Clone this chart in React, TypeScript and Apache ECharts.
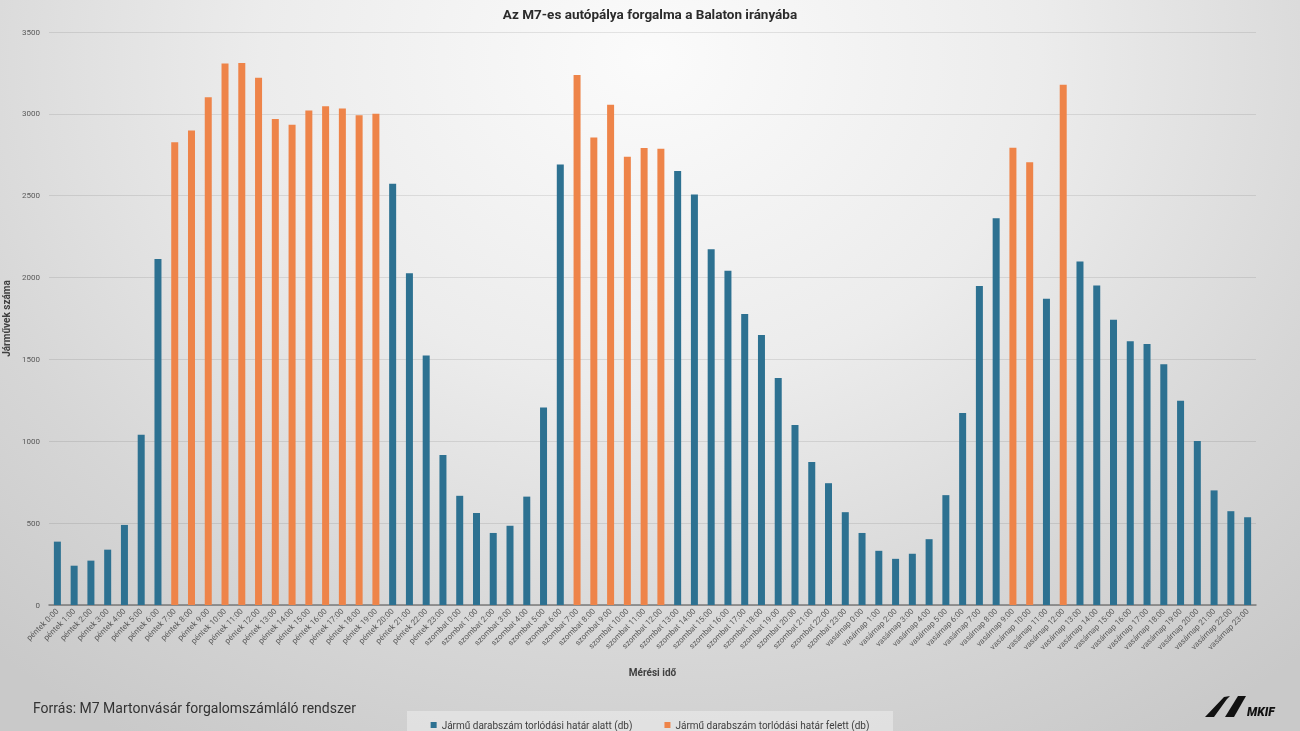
import React, { useEffect, useRef } from "react";
import * as echarts from "echarts";

// Hourly slots, Friday 0:00 to Sunday 23:00
const days = ["péntek", "szombat", "vasárnap"];
const hours = Array.from({ length: 24 }, (_, h) => `${h}:00`);
const categories = days.flatMap((d) => hours.map((h) => `${d} ${h}`));

// Vehicle counts per hour
const fridayCounts = [
  387, 240, 271, 338, 489, 1040, 2113, 2827, 2898, 3102, 3307, 3311,
  3220, 2969, 2933, 3020, 3047, 3033, 2991, 3000, 2573, 2027, 1524, 916,
];
const saturdayCounts = [
  667, 562, 440, 484, 662, 1207, 2691, 3238, 2855, 3055, 2738, 2791,
  2787, 2651, 2507, 2173, 2042, 1778, 1649, 1387, 1100, 873, 744, 567,
];
const sundayCounts = [
  440, 331, 282, 313, 402, 671, 1173, 1949, 2362, 2793, 2704, 1871,
  3178, 2098, 1951, 1742, 1611, 1595, 1471, 1247, 1002, 700, 573, 536,
];

// 1 = above the congestion threshold
const fridayOver = [0, 0, 0, 0, 0, 0, 0, 1, 1, 1, 1, 1, 1, 1, 1, 1, 1, 1, 1, 1, 0, 0, 0, 0];
const saturdayOver = [0, 0, 0, 0, 0, 0, 0, 1, 1, 1, 1, 1, 1, 0, 0, 0, 0, 0, 0, 0, 0, 0, 0, 0];
const sundayOver = [0, 0, 0, 0, 0, 0, 0, 0, 0, 1, 1, 0, 1, 0, 0, 0, 0, 0, 0, 0, 0, 0, 0, 0];

const yTicks = { min: 0, max: 3500, interval: 500 };

const belowName = "Jármű darabszám torlódási határ alatt (db)";
const aboveName = "Jármű darabszám torlódási határ felett (db)";

const BLUE = "#2d7191";
const ORANGE = "#ee8449";
const FONT = "Roboto, 'Noto Sans', sans-serif";

export default function App() {
  const ref = useRef<HTMLDivElement>(null);

  useEffect(() => {
    if (!ref.current) return;
    const chart = echarts.init(ref.current, null, { renderer: "svg" });

    const counts = [...fridayCounts, ...saturdayCounts, ...sundayCounts];
    const over = [...fridayOver, ...saturdayOver, ...sundayOver];
    const below = counts.map((v, i) => (over[i] ? "-" : v));
    const above = counts.map((v, i) => (over[i] ? v : "-"));

    chart.setOption({
      animation: false,
      backgroundColor: "transparent",
      textStyle: { fontFamily: FONT },
      title: {
        text: "Az M7-es autópálya forgalma a Balaton irányába",
        left: "center",
        top: 2,
        textStyle: { fontSize: 13.5, fontWeight: "bold", color: "#2b2b2b", fontFamily: FONT },
      },
      grid: {
        left: 49,
        right: 44,
        top: 32,
        bottom: 126,
        containLabel: false,
        outerBoundsMode: "none",
      },
      legend: {
        left: "center",
        top: 715,
        itemWidth: 6,
        itemHeight: 6,
        itemGap: 32,
        icon: "rect",
        textStyle: { fontSize: 10, color: "#404040", fontFamily: FONT },
        data: [belowName, aboveName],
      },
      xAxis: {
        type: "category",
        data: categories,
        name: "Mérési idő",
        nameLocation: "middle",
        nameGap: 62,
        nameTextStyle: { fontSize: 10, fontWeight: "bold", color: "#404040" },
        axisLine: { lineStyle: { color: "#7a7a7a", width: 1.5 } },
        axisTick: { show: false },
        axisLabel: { interval: 0, rotate: 45, fontSize: 8, color: "#595959", margin: 5 },
      },
      yAxis: {
        type: "value",
        min: yTicks.min,
        max: yTicks.max,
        interval: yTicks.interval,
        name: "Járművek száma",
        nameLocation: "middle",
        nameGap: 36,
        nameTextStyle: { fontSize: 10, fontWeight: "bold", color: "#404040" },
        axisLine: { show: false },
        axisTick: { show: false },
        axisLabel: {
          fontSize: 8,
          color: "#595959",
          margin: 9,
          formatter: (v: number) => String(v),
        },
        splitLine: { lineStyle: { color: "rgba(0,0,0,0.09)", width: 1 } },
      },
      series: [
        {
          name: belowName,
          type: "bar",
          stack: "hour",
          barWidth: 7,
          itemStyle: { color: BLUE },
          data: below,
        },
        {
          name: aboveName,
          type: "bar",
          stack: "hour",
          barWidth: 7,
          itemStyle: { color: ORANGE },
          data: above,
        },
      ],
      graphic: [
        {
          type: "rect",
          z: -1,
          shape: { x: 407, y: 711, width: 486, height: 22 },
          style: { fill: "rgba(255,255,255,0.35)" },
        },
        {
          type: "text",
          left: 33,
          top: 701,
          style: {
            text: "Forrás: M7 Martonvásár forgalomszámláló rendszer",
            font: `14px ${FONT}`,
            fill: "#333333",
          },
        },
        {
          type: "group",
          left: 1205,
          top: 696,
          children: [
            {
              type: "polygon",
              shape: { points: [[0, 21], [9, 21], [22, 3], [25, 0], [19, 1]] },
              style: { fill: "#111111" },
            },
            {
              type: "polygon",
              shape: { points: [[20, 21], [29, 21], [41, 0], [33, 0]] },
              style: { fill: "#111111" },
            },
            {
              type: "text",
              x: 42,
              y: 10,
              style: {
                text: "MKIF",
                font: `italic 900 12px ${FONT}`,
                fill: "#111111",
              },
            },
          ],
        },
      ],
    });

    return () => chart.dispose();
  }, []);

  return (
    <div
      style={{
        position: "fixed",
        left: 0,
        top: 0,
        width: 1300,
        height: 731,
        background:
          "radial-gradient(ellipse 75% 110% at 50% 8%, #fbfbfb 0%, #ececec 40%, #d6d6d6 75%, #c9c9c9 100%)",
      }}
    >
      <div ref={ref} style={{ width: 1300, height: 731 }} />
    </div>
  );
}
